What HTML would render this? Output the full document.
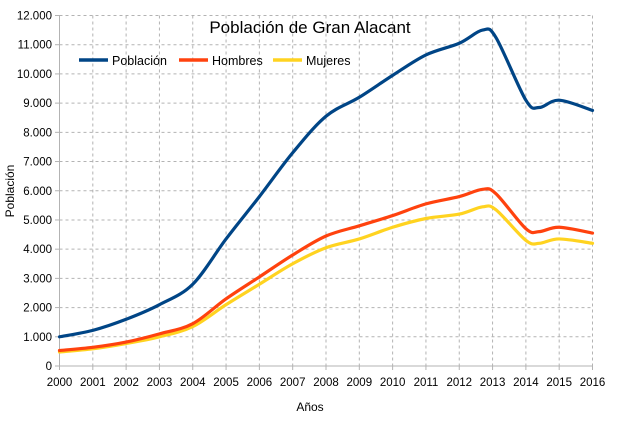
<!DOCTYPE html>
<html><head><meta charset="utf-8"><style>
body{margin:0;background:#fff}
svg{display:block;font-family:"Liberation Sans",sans-serif}
</style></head><body>
<svg id="s" width="621" height="438" viewBox="0 0 621 438">
<rect width="621" height="438" fill="#fff"/>
<g id="grid" stroke="#b3b3b3" stroke-width="1" stroke-dasharray="3,3"></g>
<g id="axes"></g>
<text x="310" y="33" font-size="17" text-anchor="middle" fill="#000">Población de Gran Alacant</text>
<line x1="79" y1="60" x2="108" y2="60" stroke="#004586" stroke-width="3.5"/>
<text x="112" y="65" font-size="12.5" fill="#000">Población</text>
<line x1="179" y1="60" x2="208" y2="60" stroke="#ff420e" stroke-width="3.5"/>
<text x="212" y="65" font-size="12.5" fill="#000">Hombres</text>
<line x1="273" y1="60" x2="302" y2="60" stroke="#ffd320" stroke-width="3.5"/>
<text x="306" y="65" font-size="12.5" fill="#000">Mujeres</text>
<text x="310" y="411" font-size="12" text-anchor="middle" fill="#000">Años</text>
<text transform="translate(14,191) rotate(-90)" font-size="12" text-anchor="middle" fill="#000">Población</text>
<g id="series" fill="none" stroke-width="3.2" stroke-linejoin="round" stroke-linecap="round"></g>
</svg>
<script>
var NS="http://www.w3.org/2000/svg";
function X(y){return 59.5+(y-2000)*33.3125;}
function Y(v){return 366-v*350.5/12000;}
function el(p,t,a,txt){var e=document.createElementNS(NS,t);for(var k in a)e.setAttribute(k,a[k]);if(txt)e.textContent=txt;p.appendChild(e);return e;}
var g=document.getElementById('grid'),ax=document.getElementById('axes');
for(var i=1;i<=12;i++){el(g,'line',{x1:59.5,x2:593,y1:Y(i*1000),y2:Y(i*1000)});}
for(var y=2001;y<=2016;y++){el(g,'line',{x1:X(y),x2:X(y),y1:15.5,y2:366});}
el(ax,'line',{x1:59.5,x2:593,y1:366,y2:366,stroke:'#b3b3b3'});
el(ax,'line',{x1:59.5,x2:59.5,y1:15.5,y2:370,stroke:'#b3b3b3'});
for(var i=0;i<=12;i++){el(ax,'line',{x1:55,x2:59.5,y1:Y(i*1000),y2:Y(i*1000),stroke:'#b3b3b3'});
 var s=i==0?'0':(i+'.000');el(ax,'text',{x:52,y:Y(i*1000)+4,'font-size':11.5,'text-anchor':'end',fill:'#000'},s);}
for(var y=2000;y<=2016;y++){el(ax,'line',{x1:X(y),x2:X(y),y1:366,y2:370,stroke:'#b3b3b3'});
 el(ax,'text',{x:X(y),y:386,'font-size':11.5,'text-anchor':'middle',fill:'#000'},''+y);}
var yrs=[2000,2001,2002,2003,2004,2005,2006,2007,2008,2009,2010,2011,2012,2012.7,2013.1,2014,2014.4,2015,2016];
var D=[
['#004586',[1000,1220,1600,2100,2800,4350,5800,7300,8550,9200,9950,10650,11050,11500,11250,9100,8850,9100,8750]],
['#ff420e',[530,640,820,1100,1450,2300,3050,3800,4450,4800,5150,5550,5800,6050,5900,4700,4600,4750,4550]],
['#ffd320',[480,590,770,1000,1350,2100,2800,3500,4050,4350,4750,5050,5200,5450,5350,4300,4200,4350,4200]]];
var sg=document.getElementById('series');
[2,1,0].forEach(function(k){var c=D[k][0],v=D[k][1];
 var p=yrs.map(function(y,i){return [X(y),Y(v[i])];});
 var d='M'+p[0][0]+','+p[0][1];
 for(var i=0;i<p.length-1;i++){var p0=p[i-1]||p[i],p1=p[i],p2=p[i+1],p3=p[i+2]||p2;
  d+=' C'+(p1[0]+(p2[0]-p0[0])/6)+','+(p1[1]+(p2[1]-p0[1])/6)+' '+(p2[0]-(p3[0]-p1[0])/6)+','+(p2[1]-(p3[1]-p1[1])/6)+' '+p2[0]+','+p2[1];}
 el(sg,'path',{d:d,stroke:c});});
</script>
</body></html>
